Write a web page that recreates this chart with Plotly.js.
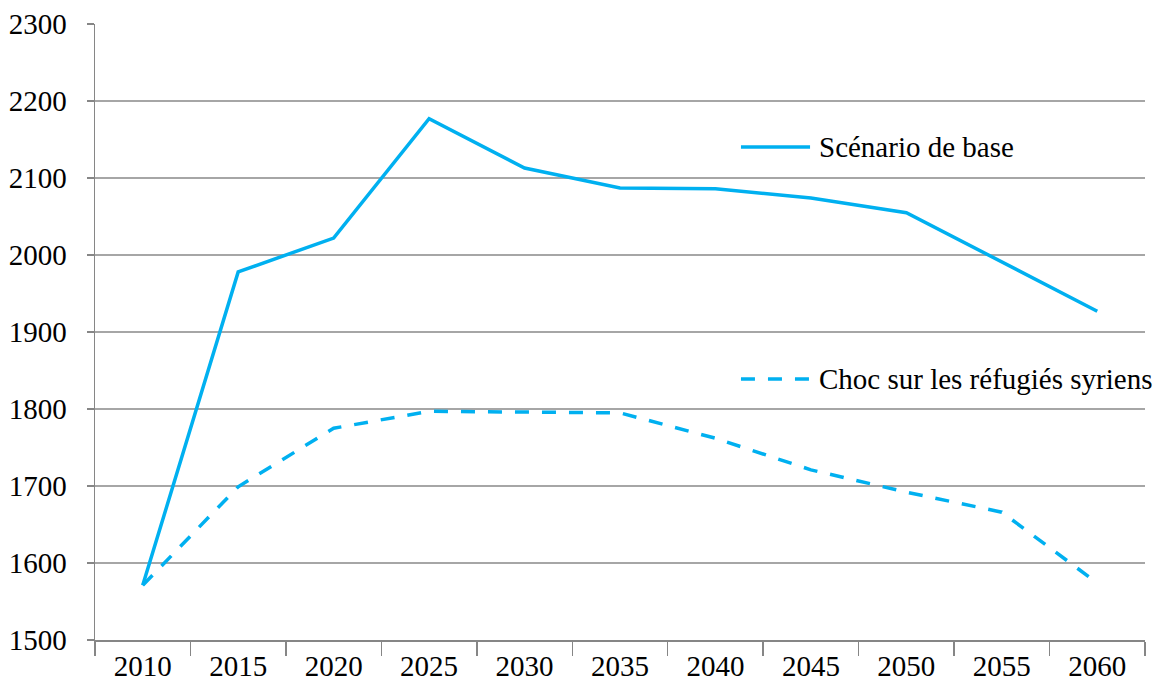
<!DOCTYPE html>
<html>
<head>
<meta charset="utf-8">
<script src="https://cdn.plot.ly/plotly-3.0.1.min.js"></script>
<style>html,body{margin:0;padding:0;background:#fff;}#chart{width:1163px;height:691px;}</style>
</head>
<body>
<div id="chart"></div>
<script>
const years = ['2010','2015','2020','2025','2030','2035','2040','2045','2050','2055','2060'];
const baseScenario = [1571, 1978, 2022, 2177, 2113, 2087, 2086, 2074, 2055, 1991, 1927];
const refugeeShock = [1571, 1699, 1775, 1797, 1796, 1795, 1762, 1721, 1692, 1666, 1574];
const seriesNames = ['Scénario de base', 'Choc sur les réfugiés syriens'];
const yTicks = [1500, 1600, 1700, 1800, 1900, 2000, 2100, 2200, 2300];

const lineColor = '#00B0F0';
const lineWidth = 3.5;
const dashStyle = '14px,13px';
const fontFamily = '"Liberation Serif", "Times New Roman", serif';
const fontSize = 29;

const traces = [
  {
    x: years, y: baseScenario, name: seriesNames[0], type: 'scatter', mode: 'lines',
    line: {color: lineColor, width: lineWidth}, showlegend: false
  },
  {
    x: years, y: refugeeShock, name: seriesNames[1], type: 'scatter', mode: 'lines',
    line: {color: lineColor, width: lineWidth, dash: dashStyle}, showlegend: false
  }
];

// legend drawn as sample lines + labels (paper coordinates of the plot area)
const legendRows = [
  {name: seriesNames[0], y: 0.8003, dash: 'solid'},
  {name: seriesNames[1], y: 0.4237, dash: dashStyle}
];
const legendX0 = 0.6152, legendX1 = 0.681, legendTextX = 0.6876;

const shapes = legendRows.map(r => ({
  type: 'line', xref: 'paper', yref: 'paper',
  x0: legendX0, x1: legendX1, y0: r.y, y1: r.y,
  line: {color: lineColor, width: lineWidth, dash: r.dash}
}));
const annotations = legendRows.map(r => ({
  xref: 'paper', yref: 'paper', x: legendTextX, y: r.y,
  xanchor: 'left', yanchor: 'middle', showarrow: false,
  text: r.name, font: {family: fontFamily, size: fontSize, color: '#000'}
}));

const layout = {
  width: 1163, height: 691,
  margin: {l: 95, r: 18, t: 24, b: 51},
  paper_bgcolor: '#ffffff', plot_bgcolor: '#ffffff',
  font: {family: fontFamily, size: fontSize, color: '#000000'},
  showlegend: false,
  shapes: shapes,
  annotations: annotations,
  xaxis: {
    type: 'category',
    range: [-0.5, years.length - 0.5],
    tickvals: years, ticktext: years,
    tickson: 'boundaries',
    ticks: 'outside', ticklen: 14, tickwidth: 1.5, tickcolor: '#868686',
    showline: true, linecolor: '#868686', linewidth: 1.5,
    showgrid: false, zeroline: false,
    tickfont: {family: fontFamily, size: fontSize, color: '#000'},
    fixedrange: true
  },
  yaxis: {
    range: [1500, 2300],
    tickvals: yTicks, ticktext: yTicks.map(String),
    ticks: 'outside', ticklen: 7, tickwidth: 1.5, tickcolor: '#868686',
    showline: true, linecolor: '#868686', linewidth: 1.5,
    showgrid: true, gridcolor: '#A6A6A6', gridwidth: 1.5,
    zeroline: false,
    ticklabelstandoff: 14,
    tickfont: {family: fontFamily, size: fontSize, color: '#000'},
    fixedrange: true
  }
};

Plotly.newPlot('chart', traces, layout, {displayModeBar: false, staticPlot: true});
</script>
</body>
</html>
